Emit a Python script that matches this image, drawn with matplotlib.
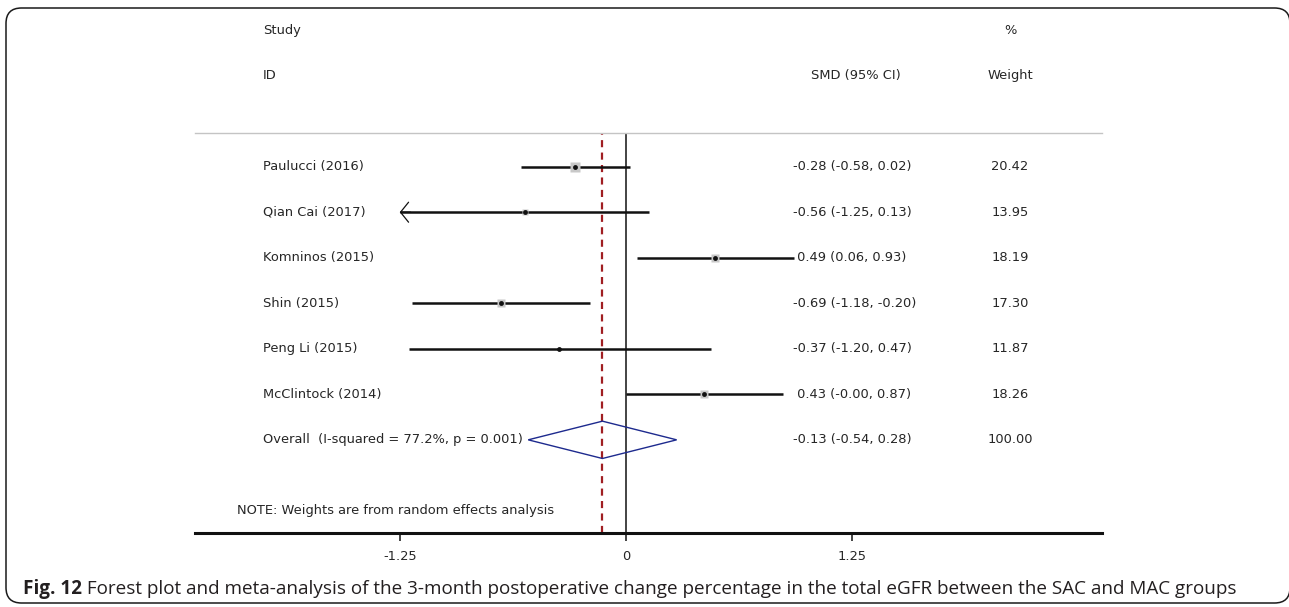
import matplotlib
matplotlib.use("Agg")
import matplotlib.pyplot as plt
from matplotlib.patches import Polygon, FancyBboxPatch

# ---------------- data ----------------
studies = ["Paulucci (2016)", "Qian Cai (2017)", "Komninos (2015)",
           "Shin (2015)", "Peng Li (2015)", "McClintock (2014)"]
smd = [-0.28, -0.56, 0.49, -0.69, -0.37, 0.43]
ci_low = [-0.58, -1.25, 0.06, -1.18, -1.20, -0.00]
ci_high = [0.02, 0.13, 0.93, -0.20, 0.47, 0.87]
weights = [20.42, 13.95, 18.19, 17.30, 11.87, 18.26]

overall_label = "Overall  (I-squared = 77.2%, p = 0.001)"
overall_smd = -0.13
overall_low = -0.54
overall_high = 0.28
overall_weight = 100.00

xticks = [-1.25, 0, 1.25]
xticklabels = ["-1.25", "0", "1.25"]
arrow_limit = -1.25

note_text = "NOTE: Weights are from random effects analysis"
caption_bold = "Fig. 12"
caption_rest = (" Forest plot and meta-analysis of the 3-month postoperative change "
                "percentage in the total eGFR between the SAC and MAC groups")

# ---------------- figure ----------------
W, H = 1289, 607
fig = plt.figure(figsize=(W / 100, H / 100), dpi=100)
fig.patch.set_facecolor("white")

FONT = "DejaVu Sans"
TXT = "#262626"
FS = 9.4

# axes spanning the plotting region
ax_left, ax_right = 195 / W, 1102 / W
ax_bottom, ax_top = (H - 532.7) / H, (H - 133) / H
ax = fig.add_axes([ax_left, ax_bottom, ax_right - ax_left, ax_top - ax_bottom])
ax.set_xlim(-2.381, 2.630)
ax.set_ylim(9.04, 0.26)
ax.patch.set_alpha(0)

for s in ["left", "right"]:
    ax.spines[s].set_visible(False)
ax.spines["top"].set_color("#c4c4c4")
ax.spines["top"].set_linewidth(1.0)
ax.spines["bottom"].set_linewidth(2.2)
ax.spines["bottom"].set_color("#111111")
ax.set_yticks([])
ax.set_xticks(xticks)
ax.set_xticklabels(xticklabels, fontfamily=FONT, fontsize=FS, color=TXT)
ax.tick_params(axis="x", direction="out", length=5.8, width=1.1, pad=7.0,
               color="#111111")

rows = list(range(1, len(studies) + 1))
overall_row = len(studies) + 1

# reference lines
ax.axvline(0, color="#111111", lw=1.1, zorder=2)
ax.axvline(overall_smd, color="#a01e22", lw=1.6, ls=(0, (3.2, 2.4)), zorder=2)

# study CIs and markers
wmax = max(weights)
for r, est, lo, hi, w in zip(rows, smd, ci_low, ci_high, weights):
    ax.plot([lo, hi], [r, r], color="#111111", lw=1.8, solid_capstyle="butt", zorder=3)
    if lo <= arrow_limit:
        ax.annotate("", xy=(lo, r), xytext=(lo + 0.06, r),
                    arrowprops=dict(arrowstyle="->,head_length=0.58,head_width=0.72",
                                    lw=0.9, color="#111111", shrinkA=0, shrinkB=0,
                                    mutation_scale=10), zorder=3)
    frac = max(w - 11.0, 0) / (wmax - 11.0)
    box = 7.0 * frac ** 0.5
    if box > 0:
        ax.plot([est], [r], marker="s", ms=box, color="#c8c8c8",
                mec="none", zorder=4)
    ax.plot([est], [r], marker="o", ms=3.5, color="#111111", mec="none", zorder=5)

# overall diamond
dh = 0.41
diamond = Polygon([[overall_low, overall_row], [overall_smd, overall_row - dh],
                   [overall_high, overall_row], [overall_smd, overall_row + dh]],
                  closed=True, fill=False, edgecolor="#1d2a8e", lw=1.0, zorder=4)
ax.add_patch(diamond)

# text columns
x_label = -2.006
x_ci = 0.923
x_wt = 2.122
x_smdhdr = 1.27

def t(x, y, s, ha="left"):
    ax.text(x, y, s, ha=ha, va="center", fontsize=FS, fontfamily=FONT,
            color=TXT, clip_on=False)

t(x_label, -2, "Study")
t(x_label, -1, "ID")
t(x_wt, -2, "%", ha="center")
t(x_smdhdr, -1, "SMD (95% CI)", ha="center")
t(x_wt, -1, "Weight", ha="center")

for r, name, est, lo, hi, w in zip(rows, studies, smd, ci_low, ci_high, weights):
    t(x_label, r, name)
    pre = "" if est < 0 else " "
    t(x_ci, r, f"{pre}{est:.2f} ({lo:.2f}, {hi:.2f})")
    t(x_wt, r, f"{w:.2f}", ha="center")

t(x_label, overall_row, overall_label)
t(x_ci, overall_row, f"{overall_smd:.2f} ({overall_low:.2f}, {overall_high:.2f})")
t(x_wt, overall_row, f"{overall_weight:.2f}", ha="center")

ax.text((237 - 626) / 181, 8.55, note_text, ha="left", va="center", fontsize=FS,
        fontfamily=FONT, color=TXT, clip_on=False)

# rounded frame
frame = FancyBboxPatch((6 / W, 4 / H), (1290 - 6) / W, (599 - 4) / H,
                       boxstyle="round,pad=0,rounding_size=0.012",
                       transform=fig.transFigure, fill=False,
                       edgecolor="#1a1a1a", lw=1.1, zorder=10,
                       mutation_aspect=W / H)
fig.patches.append(frame)

# caption
CAPFONT = "Open Sans"
cap_fs = 11.5
cy = (H - 589) / H
renderer = fig.canvas.get_renderer()
tb = fig.text(23 / W, cy, caption_bold, ha="left", va="center", fontsize=cap_fs,
              fontfamily=CAPFONT, fontweight="bold", color="#231f20")
bb = tb.get_window_extent(renderer)
tr = fig.text(bb.x1 / W, cy, caption_rest, ha="left", va="center", fontsize=cap_fs,
              fontfamily=CAPFONT, color="#231f20")
# fit caption to target width
target = 1235 - 23
bb2 = tr.get_window_extent(renderer)
scale = target / (bb2.x1 - bb.x0)
new_fs = cap_fs * scale
tb.set_fontsize(new_fs)
bb = tb.get_window_extent(renderer)
tr.set_fontsize(new_fs)
tr.set_x(bb.x1 / W)

fig.savefig("out.png", dpi=100, facecolor="white")
